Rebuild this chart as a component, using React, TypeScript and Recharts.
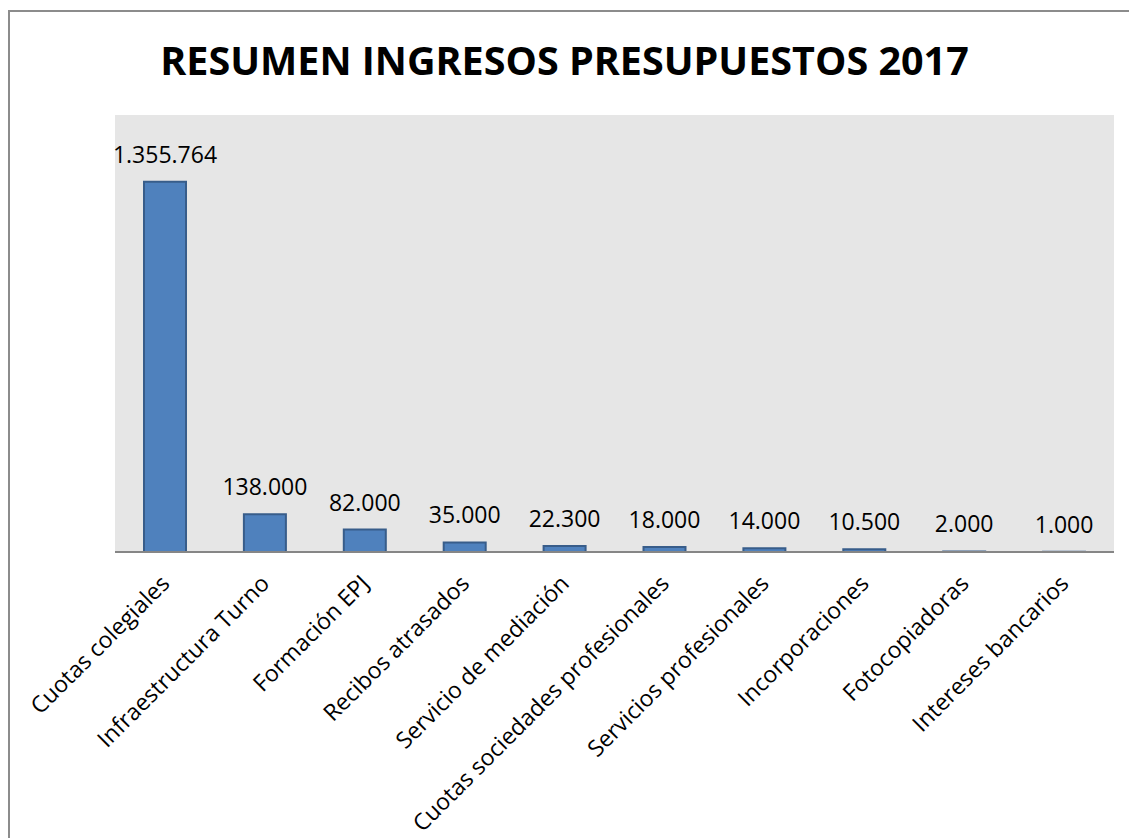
import React from "react";
import { BarChart, Bar, XAxis, YAxis, CartesianGrid, LabelList } from "recharts";

const categories = [
  "Cuotas colegiales",
  "Infraestructura Turno",
  "Formación EPJ",
  "Recibos atrasados",
  "Servicio de mediación",
  "Cuotas sociedades profesionales",
  "Servicios profesionales",
  "Incorporaciones",
  "Fotocopiadoras",
  "Intereses bancarios",
];
const values = [1355764, 138000, 82000, 35000, 22300, 18000, 14000, 10500, 2000, 1000];
const yDomain = [0, 1600000];
const title = "RESUMEN INGRESOS PRESUPUESTOS 2017";

const data = categories.map((name, i) => ({ name, value: values[i] }));

const FONT = "'Open Sans', 'Noto Sans', sans-serif";

const fmt = (v: number) => v.toLocaleString("de-DE");

const CatTick = (props: any) => {
  const { x, y, payload } = props;
  const ax = x + 6;
  const ay = y + 33;
  return (
    <text
      x={ax}
      y={ay}
      transform={`rotate(-45, ${ax}, ${ay})`}
      textAnchor="end"
      fontFamily={FONT}
      fontSize={23}
      fill="#000"
    >
      {payload.value}
    </text>
  );
};

export default function App() {
  return (
    <div style={{ position: "absolute", left: 0, top: 0, width: 1129, height: 838, overflow: "hidden", background: "#fff" }}>
      <div
        style={{
          position: "absolute",
          left: 8,
          top: 10,
          width: 1200,
          height: 900,
          borderLeft: "2px solid #8c8c8c",
          borderTop: "2px solid #8c8c8c",
        }}
      />
      <div
        style={{
          position: "absolute",
          left: 0,
          top: 35,
          width: 1129,
          textAlign: "center",
          fontFamily: FONT,
          fontWeight: 700,
          fontSize: 39.5,
          lineHeight: "50px",
          color: "#000",
        }}
      >
        {title}
      </div>
      <div style={{ position: "absolute", left: 0, top: 0 }}>
        <BarChart
          width={1129}
          height={838}
          data={data}
          margin={{ top: 115, right: 15, left: 115, bottom: 0 }}
          barSize={42}
        >
          <CartesianGrid fill="#e6e6e6" stroke="none" horizontal={false} vertical={false} />
          <YAxis hide domain={yDomain} allowDataOverflow />
          <XAxis
            dataKey="name"
            interval={0}
            tickLine={false}
            tickSize={0}
            tickMargin={0}
            axisLine={{ stroke: "#868686", strokeWidth: 2 }}
            tick={<CatTick />}
            height={286}
          />
          <Bar dataKey="value" fill="#4f81bd" stroke="#385d8a" strokeWidth={2} isAnimationActive={false}>
            <LabelList
              dataKey="value"
              position="top"
              offset={19}
              formatter={(v: any) => fmt(Number(v))}
              style={{ fontFamily: FONT, fontSize: 23, fill: "#000" }}
            />
          </Bar>
        </BarChart>
      </div>
    </div>
  );
}
